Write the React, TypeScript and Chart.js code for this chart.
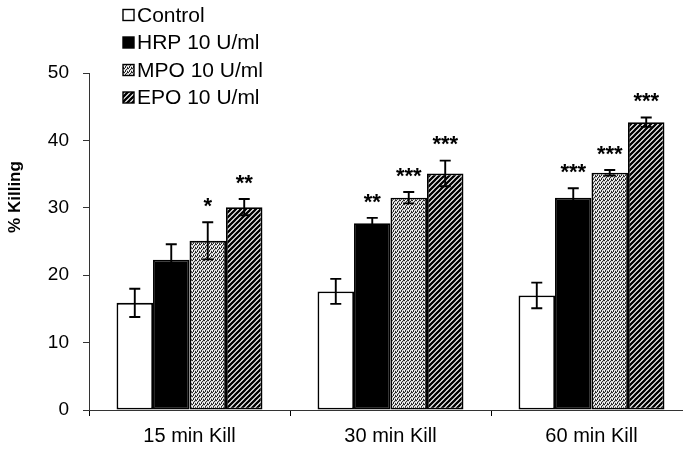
import React, { useEffect, useRef } from "react";
import { Chart, registerables } from "chart.js";

Chart.register(...registerables);

const categories = ["15 min Kill", "30 min Kill", "60 min Kill"];
const seriesLabels = ["Control", "HRP 10 U/ml", "MPO 10 U/ml", "EPO 10 U/ml"];
const controlMeans = [15.9, 17.6, 17.0];
const controlErr = [2.1, 1.85, 1.9];
const hrpMeans = [22.3, 27.7, 31.5];
const hrpErr = [2.3, 0.8, 1.4];
const mpoMeans = [25.1, 31.5, 35.2];
const mpoErr = [2.75, 0.85, 0.4];
const epoMeans = [30.1, 35.1, 42.7];
const epoErr = [1.2, 1.9, 0.7];
const controlStars = ["", "", ""];
const hrpStars = ["", "**", "***"];
const mpoStars = ["*", "***", "***"];
const epoStars = ["**", "***", "***"];
const yMin = 0;
const yMax = 50;
const yStep = 10;
const yTitle = "% Killing";

const FONT = '"Liberation Sans", Arial, sans-serif';

function makeStipple(): CanvasPattern | string {
  const c = document.createElement("canvas");
  c.width = 4;
  c.height = 4;
  const ctx = c.getContext("2d");
  if (!ctx) return "#bbb";
  ctx.fillStyle = "#d4d4d4";
  ctx.fillRect(0, 0, 4, 4);
  ctx.fillStyle = "#2a2a2a";
  const dots = [
    [0, 0],
    [2, 1],
    [1, 2],
    [3, 3],
    [3, 0],
    [1, 3],
  ];
  dots.forEach(([x, y]) => ctx.fillRect(x, y, 1, 1));
  ctx.fillStyle = "#ffffff";
  [
    [1, 0],
    [0, 2],
    [2, 3],
  ].forEach(([x, y]) => ctx.fillRect(x, y, 1, 1));
  return ctx.createPattern(c, "repeat") || "#bbb";
}

function makeHatch(): CanvasPattern | string {
  const s = 5;
  const c = document.createElement("canvas");
  c.width = s;
  c.height = s;
  const ctx = c.getContext("2d");
  if (!ctx) return "#888";
  ctx.fillStyle = "#fff";
  ctx.fillRect(0, 0, s, s);
  ctx.strokeStyle = "#000";
  ctx.lineWidth = 2.3;
  ctx.beginPath();
  ctx.moveTo(0, s);
  ctx.lineTo(s, 0);
  ctx.moveTo(-1, 1);
  ctx.lineTo(1, -1);
  ctx.moveTo(s - 1, s + 1);
  ctx.lineTo(s + 1, s - 1);
  ctx.stroke();
  return ctx.createPattern(c, "repeat") || "#888";
}

export default function App() {
  const ref = useRef<HTMLCanvasElement | null>(null);

  useEffect(() => {
    if (!ref.current) return;
    const stipple = makeStipple();
    const hatch = makeHatch();
    const means = [controlMeans, hrpMeans, mpoMeans, epoMeans];
    const errs = [controlErr, hrpErr, mpoErr, epoErr];
    const stars = [controlStars, hrpStars, mpoStars, epoStars];
    const fills: (string | CanvasPattern)[] = ["#ffffff", "#000000", stipple, hatch];

    const overlay = {
      id: "overlay",
      afterDatasetsDraw(chart: any) {
        const ctx = chart.ctx as CanvasRenderingContext2D;
        const yScale = chart.scales.y;
        ctx.save();
        means.forEach((m, i) => {
          const meta = chart.getDatasetMeta(i);
          meta.data.forEach((el: any, j: number) => {
            const x = el.x;
            const top = yScale.getPixelForValue(m[j] + errs[i][j]);
            const bot = yScale.getPixelForValue(m[j] - errs[i][j]);
            ctx.strokeStyle = "#000";
            ctx.lineWidth = 1.9;
            ctx.beginPath();
            ctx.moveTo(x, top);
            ctx.lineTo(x, bot);
            ctx.moveTo(x - 5.5, top);
            ctx.lineTo(x + 5.5, top);
            ctx.moveTo(x - 5.5, bot);
            ctx.lineTo(x + 5.5, bot);
            ctx.stroke();
            const s = stars[i][j];
            if (s) {
              ctx.fillStyle = "#000";
              ctx.font = `bold 22px ${FONT}`;
              ctx.textAlign = "center";
              ctx.textBaseline = "alphabetic";
              ctx.fillText(s, x, top - 22 + 12.7);
            }
          });
        });
        ctx.restore();
      },
      afterDraw(chart: any) {
        const ctx = chart.ctx as CanvasRenderingContext2D;
        ctx.save();
        const rows = [15, 42.5, 70, 97.5];
        seriesLabels.forEach((lab, i) => {
          const y = rows[i];
          ctx.fillStyle = fills[i] as any;
          ctx.fillRect(123, y - 5.5, 11, 11);
          ctx.strokeStyle = "#000";
          ctx.lineWidth = 1.4;
          ctx.strokeRect(123, y - 5.5, 11, 11);
          ctx.fillStyle = "#000";
          ctx.font = `21px ${FONT}`;
          ctx.textAlign = "left";
          ctx.textBaseline = "middle";
          ctx.fillText(lab, 137, y + 1);
        });
        ctx.translate(15, 197);
        ctx.rotate(-Math.PI / 2);
        ctx.font = `bold 17px ${FONT}`;
        ctx.textAlign = "center";
        ctx.textBaseline = "middle";
        ctx.fillStyle = "#000";
        ctx.fillText(yTitle, 0, 0);
        ctx.restore();
      },
    };

    const chart = new Chart(ref.current, {
      type: "bar",
      data: {
        labels: categories,
        datasets: means.map((m, i) => ({
          label: seriesLabels[i],
          data: m,
          backgroundColor: fills[i] as any,
          borderColor: "#000",
          borderWidth: 1.8,
          borderSkipped: false,
          categoryPercentage: 0.726,
          barPercentage: 1,
        })),
      },
      options: {
        responsive: false,
        animation: false,
        layout: { padding: { top: 73, right: 8, left: 0, bottom: 0 } },
        plugins: {
          legend: { display: false },
          tooltip: { enabled: false },
        },
        scales: {
          x: {
            grid: {
              display: true,
              drawOnChartArea: false,
              drawTicks: true,
              tickLength: 6,
              color: "#000",
              offset: true,
            },
            border: { display: true, color: "#333", width: 1 },
            ticks: { color: "#000", font: { family: FONT, size: 20 }, padding: 8 },
            afterFit: (s: any) => {
              s.height = 42;
            },
          },
          y: {
            min: yMin,
            max: yMax,
            ticks: {
              stepSize: yStep,
              color: "#000",
              font: { family: FONT, size: 19 },
              padding: 14,
            },
            grid: {
              drawOnChartArea: false,
              drawTicks: true,
              tickLength: 6,
              color: "#333",
            },
            border: { display: true, color: "#333", width: 1 },
            afterFit: (s: any) => {
              s.width = 89;
            },
          },
        },
      },
      plugins: [overlay],
    });
    return () => chart.destroy();
  }, []);

  return (
    <div style={{ position: "fixed", left: 0, top: 0, width: 700, height: 452, background: "#fff" }}>
      <canvas ref={ref} width={700} height={452} />
    </div>
  );
}
